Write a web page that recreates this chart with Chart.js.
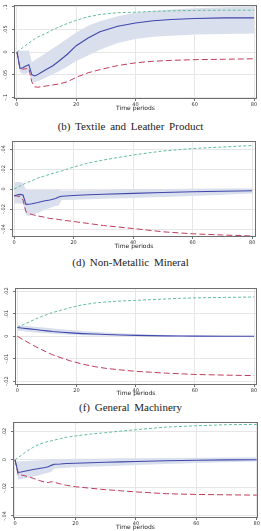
<!DOCTYPE html>
<html><head><meta charset="utf-8">
<script src="https://cdn.jsdelivr.net/npm/chart.js@4.4.1/dist/chart.umd.min.js"></script>
<style>
html,body{margin:0;padding:0;background:#fff}
body{width:261px;height:531px;position:relative;overflow:hidden}
.p{position:absolute;left:0;width:261px}
.cap{position:absolute;left:0;width:261px;text-align:center;font-family:"Liberation Serif","Times New Roman",serif;font-size:11px;line-height:13px;word-spacing:2px;color:#222;white-space:nowrap}
</style></head><body>
<div class="p" style="top:0;height:112px"><canvas id="c1"></canvas></div>
<div class="cap" style="top:120px">(b) Textile and Leather Product</div>
<div class="p" style="top:136px;height:114px"><canvas id="c2"></canvas></div>
<div class="cap" style="top:256px">(d) Non-Metallic Mineral</div>
<div class="p" style="top:283px;height:114px"><canvas id="c3"></canvas></div>
<div class="cap" style="top:401px">(f) General Machinery</div>
<div class="p" style="top:417px;height:114px"><canvas id="c4"></canvas></div>
<script>
// ---------- data ----------
const xTicks = [0, 20, 40, 60, 80];

// (b) Textile and Leather Product
const periodsB = [0,1,2,3,4,5,6,7,8,10,12,14,17,20,24,28,34,40,46,52,60,70,80];
const medianB  = [0,-0.036,-0.035,-0.031,-0.028,-0.050,-0.053,-0.050,-0.046,-0.038,-0.031,-0.021,-0.005,0.014,0.031,0.045,0.057,0.064,0.069,0.072,0.074,0.0755,0.0755];
const bandHiB  = [0,0.003,0.003,0.003,0.004,-0.022,-0.018,-0.014,-0.010,-0.001,0.008,0.016,0.030,0.043,0.058,0.068,0.079,0.087,0.091,0.094,0.097,0.099,0.100];
const bandLoB  = [0,-0.045,-0.048,-0.048,-0.045,-0.066,-0.066,-0.064,-0.062,-0.056,-0.049,-0.043,-0.032,-0.020,-0.008,0.005,0.020,0.029,0.034,0.036,0.0385,0.040,0.041];
const upperB   = [0,0.005,0.010,0.015,0.020,0.024,0.029,0.033,0.036,0.042,0.049,0.055,0.063,0.070,0.078,0.083,0.087,0.088,0.090,0.091,0.092,0.0925,0.0926];
const lowerB   = [0,-0.036,-0.038,-0.037,-0.036,-0.066,-0.077,-0.078,-0.077,-0.075,-0.073,-0.071,-0.066,-0.056,-0.046,-0.039,-0.030,-0.024,-0.0205,-0.0185,-0.017,-0.016,-0.015];
const yTicksB  = [-0.1,-0.05,0,0.05,0.1];

// (d) Non-Metallic Mineral
const periodsD = [0,1,2,3,4,5,6,8,10,12,14,15,16,20,25,30,40,50,60,70,80];
const medianD  = [-0.0067,-0.006,-0.0054,-0.006,-0.0154,-0.0152,-0.0147,-0.0135,-0.012,-0.011,-0.0095,-0.008,-0.0072,-0.0065,-0.0058,-0.0053,-0.0044,-0.0035,-0.0028,-0.0022,-0.0017];
const bandHiD  = [0.007,0.007,0.007,0.006,-0.001,-0.001,-0.001,-0.001,-0.001,-0.001,-0.001,-0.001,-0.0015,-0.0015,-0.0012,-0.001,-0.0005,0,0.0003,0.0005,0.0007];
const bandLoD  = [-0.0144,-0.0144,-0.0144,-0.015,-0.026,-0.027,-0.026,-0.024,-0.021,-0.019,-0.017,-0.0165,-0.011,-0.0108,-0.0103,-0.0098,-0.009,-0.008,-0.007,-0.0058,-0.0045];
const upperD   = [0,0.0015,0.003,0.0045,0.006,0.0072,0.0083,0.011,0.0128,0.0147,0.0165,0.0172,0.018,0.022,0.026,0.029,0.034,0.038,0.0405,0.042,0.0435];
const lowerD   = [-0.0067,-0.007,-0.0077,-0.011,-0.0228,-0.0245,-0.0255,-0.027,-0.028,-0.0295,-0.030,-0.0305,-0.031,-0.0325,-0.0345,-0.0365,-0.0395,-0.0428,-0.0448,-0.046,-0.047];
const yTicksD  = [-0.04,-0.02,0,0.02,0.04];

// (f) General Machinery
const periodsF = [0,2,4,6,8,10,12,15,18,22,26,30,35,40,45,50,55,60,70,80];
const medianF  = [0.0039,0.0036,0.0033,0.003,0.0027,0.0024,0.0021,0.0018,0.0015,0.0012,0.001,0.0008,0.0006,0.0004,0.0003,0.0002,0.0001,0.00005,0,0];
const bandHiF  = [0.005,0.0048,0.0045,0.0042,0.004,0.0038,0.0035,0.0031,0.0028,0.0024,0.002,0.0017,0.0013,0.001,0.0008,0.0006,0.0005,0.0004,0.0003,0.0002];
const bandLoF  = [0.0025,0.0022,0.002,0.0017,0.0015,0.0013,0.0011,0.0009,0.0007,0.0005,0.0003,0.0002,0.0001,0,-0.0001,-0.0001,-0.0002,-0.0002,-0.0002,-0.0002];
const upperF   = [0.0039,0.0052,0.0064,0.0076,0.0087,0.0097,0.0106,0.0117,0.0128,0.014,0.0148,0.0153,0.0157,0.016,0.0163,0.0166,0.0169,0.0171,0.0173,0.0175];
const lowerF   = [0,-0.0016,-0.003,-0.0045,-0.0058,-0.0071,-0.0083,-0.0097,-0.011,-0.0124,-0.0135,-0.0143,-0.015,-0.0156,-0.016,-0.0164,-0.0167,-0.017,-0.0173,-0.0175];
const yTicksF  = [-0.02,-0.01,0,0.01,0.02];

// (h) last panel
const periodsH = [0,1,2,4,6,8,10,11,12,13,15,17,20,25,30,35,40,50,60,70,80];
const medianH  = [0,-0.009,-0.0087,-0.0078,-0.007,-0.0062,-0.0055,-0.005,-0.004,-0.0032,-0.003,-0.0027,-0.0025,-0.0021,-0.0018,-0.0015,-0.0012,-0.0007,-0.0003,-0.0001,0];
const bandHiH  = [0,-0.0012,-0.001,-0.0008,-0.0006,-0.0004,-0.0002,0,0.0003,0.0005,0.0005,0.0006,0.0007,0.0008,0.0009,0.001,0.0011,0.0013,0.0015,0.0016,0.0017];
const bandLoH  = [0,-0.014,-0.0137,-0.013,-0.012,-0.011,-0.0098,-0.0093,-0.0085,-0.0062,-0.006,-0.0057,-0.0054,-0.005,-0.0046,-0.0042,-0.0038,-0.003,-0.0023,-0.0017,-0.0012];
const upperH   = [0,0.0016,0.003,0.0062,0.0089,0.011,0.0125,0.013,0.0135,0.014,0.015,0.016,0.017,0.0183,0.0193,0.0204,0.0214,0.0233,0.0242,0.025,0.0252];
const lowerH   = [0,-0.0103,-0.0108,-0.0118,-0.0132,-0.0148,-0.016,-0.0163,-0.0156,-0.016,-0.0172,-0.0182,-0.0192,-0.0203,-0.0213,-0.0221,-0.0229,-0.0242,-0.0247,-0.025,-0.0252];
const yTicksH  = [-0.04,-0.02,0,0.02];

const xTitle = 'Time periods';

// ---------- drawing ----------
const fmt = v => {
  if (Math.abs(v) < 1e-12) return '0';
  let s = String(+v.toFixed(4));
  return s.replace(/^(-?)0\./, '$1.');
};
const pts = (xs, ys) => xs.map((x, i) => ({x: x, y: ys[i]}));

const boxPlugin = {
  id: 'box',
  afterDraw(chart) {
    const a = chart.chartArea, c = chart.ctx;
    c.save();
    c.strokeStyle = '#6f6f6f';
    c.lineWidth = 1;
    c.strokeRect(Math.round(a.left) + 0.5, Math.round(a.top) + 0.5,
                 Math.round(a.right - a.left) - 1, Math.round(a.bottom - a.top) - 1);
    c.restore();
  }
};

function panel(id, periods, med, hi, lo, up, dn, yTicks, cfg) {
  new Chart(document.getElementById(id), {
    type: 'line',
    data: {
      datasets: [
        {data: pts(periods, med), borderColor: '#4047ad', borderWidth: 1.1, pointRadius: 0, tension: 0, fill: false},
        {data: pts(periods, up), borderColor: '#62bf98', borderWidth: 1, borderDash: [3, 2], pointRadius: 0, tension: 0, fill: false},
        {data: pts(periods, dn), borderColor: '#c03c5c', borderWidth: 1, borderDash: [6, 3], pointRadius: 0, tension: 0, fill: false},
        {data: pts(periods, hi), borderWidth: 0, borderColor: 'rgba(0,0,0,0)', pointRadius: 0, tension: 0, fill: false},
        {data: pts(periods, lo), borderWidth: 0, borderColor: 'rgba(0,0,0,0)', backgroundColor: '#d9dfec', pointRadius: 0, tension: 0, fill: '-1'}
      ]
    },
    options: {
      responsive: true, maintainAspectRatio: false, animation: false,
      devicePixelRatio: 1,
      layout: {padding: {top: cfg.top, right: cfg.right, left: 0, bottom: 0}},
      plugins: {legend: {display: false}, tooltip: {enabled: false}},
      scales: {
        x: {
          type: 'linear', min: cfg.xmin, max: cfg.xmax,
          afterBuildTicks: s => { s.ticks = xTicks.map(v => ({value: v})); },
          afterFit: s => { s.height = cfg.xh; },
          grid: {color: '#e6e6e6', lineWidth: 1, tickLength: 2, tickColor: '#6f6f6f'},
          border: {display: false},
          ticks: {font: {size: 5, family: 'DejaVu Sans'}, color: '#333', padding: 0.5, maxRotation: 0, minRotation: 0, callback: v => fmt(v)},
          title: {display: true, text: xTitle, font: {size: 6, family: 'DejaVu Sans'}, color: '#222', padding: {top: 0, bottom: 0}}
        },
        y: {
          type: 'linear', min: cfg.ymin, max: cfg.ymax,
          afterBuildTicks: s => { s.ticks = yTicks.map(v => ({value: v})); },
          afterFit: s => { s.width = cfg.yw; },
          grid: {color: '#e6e6e6', lineWidth: 1, tickLength: 2, tickColor: '#6f6f6f'},
          border: {display: false},
          ticks: {font: {size: 5, family: 'DejaVu Sans'}, color: '#333', padding: 1.5, minRotation: 90, maxRotation: 90, crossAlign: 'center', callback: v => fmt(v)}
        }
      }
    },
    plugins: [boxPlugin]
  });
}

panel('c1', periodsB, medianB, bandHiB, bandLoB, upperB, lowerB, yTicksB,
      {top: 5, right: 4, xh: 13, yw: 14, xmin: -1, xmax: 81, ymin: -0.104, ymax: 0.104});
panel('c2', periodsD, medianD, bandHiD, bandLoD, upperD, lowerD, yTicksD,
      {top: 5, right: 5, xh: 13, yw: 12, xmin: -0.7, xmax: 81.3, ymin: -0.048, ymax: 0.048});
panel('c3', periodsF, medianF, bandHiF, bandLoF, upperF, lowerF, yTicksF,
      {top: 5, right: 4, xh: 12, yw: 15, xmin: -0.8, xmax: 81, ymin: -0.0217, ymax: 0.0215});
panel('c4', periodsH, medianH, bandHiH, bandLoH, upperH, lowerH, yTicksH,
      {top: 5, right: 3, xh: 13, yw: 13, xmin: -0.66, xmax: 80.4, ymin: -0.0415, ymax: 0.0269});
</script>
</body></html>
